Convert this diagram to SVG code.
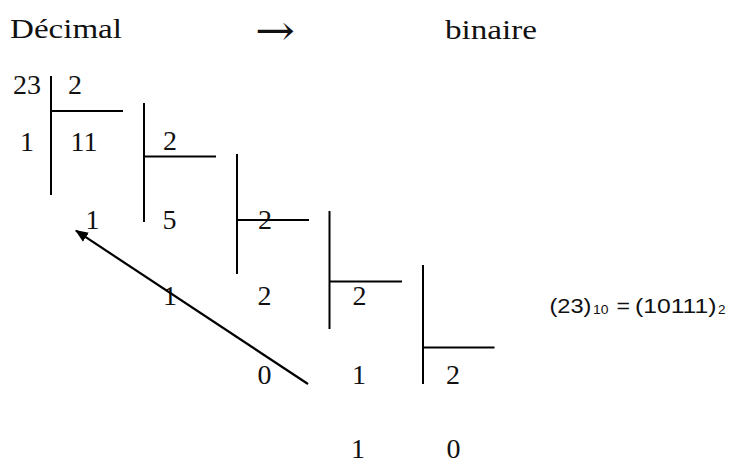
<svg xmlns="http://www.w3.org/2000/svg" width="729" height="464" viewBox="0 0 729 464">
  <style>
    .hdr { font-family: "Liberation Serif", "Times New Roman", serif; font-size: 27px; fill: #111; }
    .num { font-family: "Liberation Serif", "Times New Roman", serif; font-size: 28px; fill: #111; text-anchor: middle; }
    .res { font-family: "Liberation Sans", Arial, sans-serif; font-size: 21px; fill: #111; }
    .sub { font-family: "Liberation Sans", Arial, sans-serif; font-size: 13.5px; fill: #111; }
    .rule { stroke: #000; stroke-width: 2; fill: none; }
    .conn { stroke: #000; stroke-width: 2.2; fill: none; }
  </style>
  <defs>
    <marker id="ah" viewBox="0 0 12 10" refX="11" refY="5" markerWidth="13" markerHeight="11" markerUnits="userSpaceOnUse" orient="auto">
      <path d="M0,0 L12,5 L0,10 Z" fill="#000"/>
    </marker>
  </defs>
  <rect width="729" height="464" fill="#fff"/>

  <g id="header">
    <text class="hdr" x="10" y="38" textLength="112" lengthAdjust="spacingAndGlyphs">Décimal</text>
    <text x="255" y="45" font-family="'DejaVu Serif', 'Liberation Serif', serif" font-size="42" fill="#111" textLength="40" lengthAdjust="spacingAndGlyphs">→</text>
    <text class="hdr" x="445" y="39" textLength="92" lengthAdjust="spacingAndGlyphs">binaire</text>
  </g>

  <g id="div1">
    <text class="num" x="27" y="94">23</text>
    <text class="num" x="75" y="94">2</text>
    <line class="rule" x1="51" y1="76" x2="51" y2="195"/>
    <line class="rule" x1="51" y1="111" x2="123" y2="111"/>
    <text class="num" x="27" y="151">1</text>
    <text class="num" x="84" y="151">11</text>
  </g>

  <g id="div2">
    <text class="num" x="170" y="150">2</text>
    <line class="rule" x1="144" y1="103" x2="144" y2="222"/>
    <line class="rule" x1="144" y1="156.5" x2="216" y2="156.5"/>
    <text class="num" x="92.5" y="228.5">1</text>
    <text class="num" x="169.5" y="229">5</text>
  </g>

  <g id="div3">
    <text class="num" x="265" y="229">2</text>
    <line class="rule" x1="237" y1="154" x2="237" y2="274"/>
    <line class="rule" x1="237" y1="220" x2="309" y2="220"/>
    <text class="num" x="170" y="305">1</text>
    <text class="num" x="264.5" y="305">2</text>
  </g>

  <g id="div4">
    <text class="num" x="359.5" y="305">2</text>
    <line class="rule" x1="329.5" y1="211" x2="329.5" y2="329"/>
    <line class="rule" x1="329.5" y1="281.5" x2="402" y2="281.5"/>
    <text class="num" x="264.5" y="383.5">0</text>
    <text class="num" x="359" y="383.5">1</text>
  </g>

  <g id="div5">
    <text class="num" x="453" y="383.5">2</text>
    <line class="rule" x1="423" y1="265" x2="423" y2="384"/>
    <line class="rule" x1="423" y1="347.5" x2="494.5" y2="347.5"/>
    <text class="num" x="358" y="458">1</text>
    <text class="num" x="453.5" y="458">0</text>
  </g>

  <g id="result">
    <text class="res" x="549.5" y="313" textLength="42" lengthAdjust="spacingAndGlyphs">(23)</text>
    <text class="sub" x="593" y="314" textLength="15.5" lengthAdjust="spacingAndGlyphs">10</text>
    <text class="res" x="616.5" y="313" textLength="13.5" lengthAdjust="spacingAndGlyphs">=</text>
    <text class="res" x="635" y="313" textLength="81.5" lengthAdjust="spacingAndGlyphs">(10111)</text>
    <text class="sub" x="718" y="314" textLength="7.5" lengthAdjust="spacingAndGlyphs">2</text>
  </g>

  <g id="connectors">
    <path class="conn" d="M308,384 L76,230.7" marker-end="url(#ah)"/>
  </g>
</svg>
